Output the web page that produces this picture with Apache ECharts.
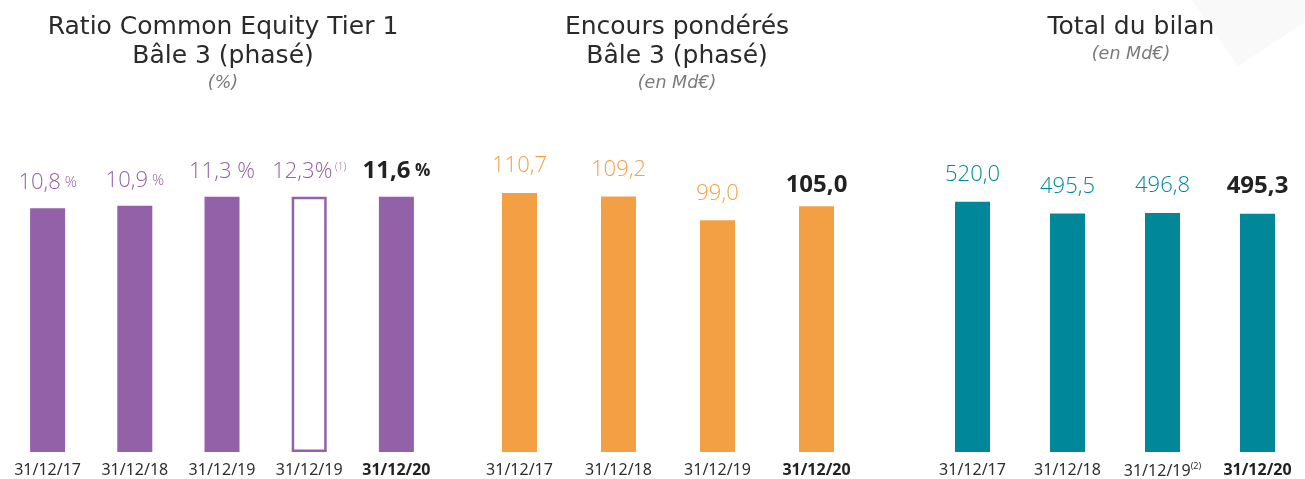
<!DOCTYPE html>
<html>
<head>
<meta charset="utf-8">
<script src="https://cdn.jsdelivr.net/npm/echarts@6/dist/echarts.min.js"></script>
<style>
  html, body { margin: 0; padding: 0; background: #fff; }
  #chart { width: 1305px; height: 479px; }
</style>
</head>
<body>
<div id="chart"></div>
<script>
// data
const cet1Dates = ['31/12/17', '31/12/18', '31/12/19', '31/12/19', '31/12/20']
const cet1Values = [10.8, 10.9, 11.3, 12.3, 11.6]
// the drawn bars are not to scale in the original: last two sit at the 11,3 height
const cet1BarHeights = [10.8, 10.9, 11.3, 11.3, 11.3]

const rwaDates = ['31/12/17', '31/12/18', '31/12/19', '31/12/20']
const rwaValues = [110.7, 109.2, 99.0, 105.0]

const bilanDates = ['31/12/17', '31/12/18', '31/12/19', '31/12/20']
const bilanValues = [520.0, 495.5, 496.8, 495.3]

const PURPLE = '#9361A8'
const ORANGE = '#F3A044'
const TEAL = '#00879A'
const DARK = '#222222'

const fr = v => v.toFixed(1).replace('.', ',')

const chart = echarts.init(document.getElementById('chart'))

const titleFont = '"DejaVu Sans", sans-serif'
const numFont = '"Open Sans", sans-serif'
const axisFont = '"Noto Sans", sans-serif'

const xLabel = (last, supIdx) => ({
  color: '#2e2e2e',
  fontSize: 16,
  fontFamily: axisFont,
  margin: 10,
  interval: 0,
  formatter: (v, i) => {
    if (i === last) return '{b|' + v + '}'
    if (i === supIdx) return '{n|' + v + '}{s|(2)}'
    return v
  },
  rich: {
    b: { fontWeight: 'bold', fontSize: 16, color: '#222', fontFamily: axisFont },
    n: { fontSize: 16, color: '#2e2e2e', fontFamily: axisFont, padding: [0, 0, 5, 0] },
    s: { fontSize: 9, color: '#2e2e2e', fontFamily: axisFont, padding: [0, 0, 14, 0] }
  }
})

const hiddenY = (gi, max) => ({
  type: 'value', gridIndex: gi, min: 0, max: max,
  axisLine: { show: false }, axisTick: { show: false },
  axisLabel: { show: false }, splitLine: { show: false }
})

const catX = (gi, data, labelCfg) => ({
  type: 'category', gridIndex: gi, data: data,
  axisLine: { show: false }, axisTick: { show: false },
  axisLabel: labelCfg
})

const numRich = color => ({
  v: { fontSize: 22, color: color, fontFamily: numFont, fontWeight: 300 },
  p: { fontSize: 15, color: color, fontFamily: numFont, fontWeight: 300 },
  P: { fontSize: 22, color: color, fontFamily: numFont, fontWeight: 300 },
  s: { fontSize: 10, color: color, fontFamily: numFont, fontWeight: 300, padding: [0, 0, 10, 0] },
  b: { fontSize: 24, color: DARK, fontFamily: numFont, fontWeight: 700 },
  bp: { fontSize: 17, color: DARK, fontFamily: numFont, fontWeight: 700 }
})

const titleStyle = { fontFamily: titleFont, fontSize: 25, fontWeight: 'normal', color: '#2a2a2a', lineHeight: 29 }
const subStyle = { fontFamily: titleFont, fontSize: 17.5, fontStyle: 'italic', color: '#7a7a7a' }

const option = {
  animation: false,
  backgroundColor: '#fff',
  graphic: [
    {
      type: 'polygon',
      shape: { points: [[1192, 0], [1305, 0], [1305, 22], [1238, 66]] },
      style: { fill: '#F9F9FA' },
      z: -10
    }
  ],
  title: [
    {
      text: 'Ratio Common Equity Tier 1\nBâle 3 (phasé)', subtext: '(%)',
      left: 218, top: 8, textAlign: 'center', itemGap: 3,
      textStyle: titleStyle, subtextStyle: subStyle
    },
    {
      text: 'Encours pondérés\nBâle 3 (phasé)', subtext: '(en Md€)',
      left: 672, top: 8, textAlign: 'center', itemGap: 3,
      textStyle: titleStyle, subtextStyle: subStyle
    },
    {
      text: 'Total du bilan', subtext: '(en Md€)',
      left: 1126, top: 8, textAlign: 'center', itemGap: 3,
      textStyle: titleStyle, subtextStyle: subStyle
    }
  ],
  grid: [
    { left: 4, width: 436, top: 32, bottom: 27 },
    { left: 470, width: 396, top: 32, bottom: 27 },
    { left: 925, width: 389, top: 32, bottom: 27 }
  ],
  xAxis: [
    catX(0, cet1Dates, xLabel(4, -1)),
    catX(1, rwaDates, xLabel(3, -1)),
    catX(2, bilanDates, xLabel(3, 2))
  ],
  yAxis: [
    hiddenY(0, 18.6),
    hiddenY(1, 179.5),
    hiddenY(2, 873)
  ],
  series: [
    {
      type: 'bar', xAxisIndex: 0, yAxisIndex: 0, barWidth: 35,
      data: cet1BarHeights.map((h, i) => i === 3
        ? { value: h, itemStyle: { color: '#fff', borderColor: PURPLE, borderWidth: 2.5 } }
        : { value: h }),
      itemStyle: { color: PURPLE },
      label: {
        show: true, position: 'top', distance: 14,
        formatter: p => {
          const t = fr(cet1Values[p.dataIndex])
          if (p.dataIndex === 4) return '{b|' + t + '}{bp| %}'
          if (p.dataIndex === 3) return '{v|' + t + '}{P|%}{s| (1)}'
          if (p.dataIndex === 2) return '{v|' + t + '}{P| %}'
          return '{v|' + t + '}{p| %}'
        },
        rich: numRich(PURPLE)
      }
    },
    {
      type: 'bar', xAxisIndex: 1, yAxisIndex: 1, barWidth: 35,
      data: rwaValues.map((v, i) => i === 3 ? { value: v, label: { distance: 9 } } : v),
      itemStyle: { color: ORANGE },
      label: {
        show: true, position: 'top', distance: 16,
        formatter: p => p.dataIndex === 3 ? '{b|' + fr(p.value) + '}' : '{v|' + fr(p.value) + '}',
        rich: numRich(ORANGE)
      }
    },
    {
      type: 'bar', xAxisIndex: 2, yAxisIndex: 2, barWidth: 35,
      data: bilanValues,
      itemStyle: { color: TEAL },
      label: {
        show: true, position: 'top', distance: 16,
        formatter: p => p.dataIndex === 3 ? '{b|' + fr(p.value) + '}' : '{v|' + fr(p.value) + '}',
        rich: numRich(TEAL)
      }
    }
  ]
}

chart.setOption(option)
window.addEventListener('resize', () => chart.resize())
</script>
</body>
</html>
